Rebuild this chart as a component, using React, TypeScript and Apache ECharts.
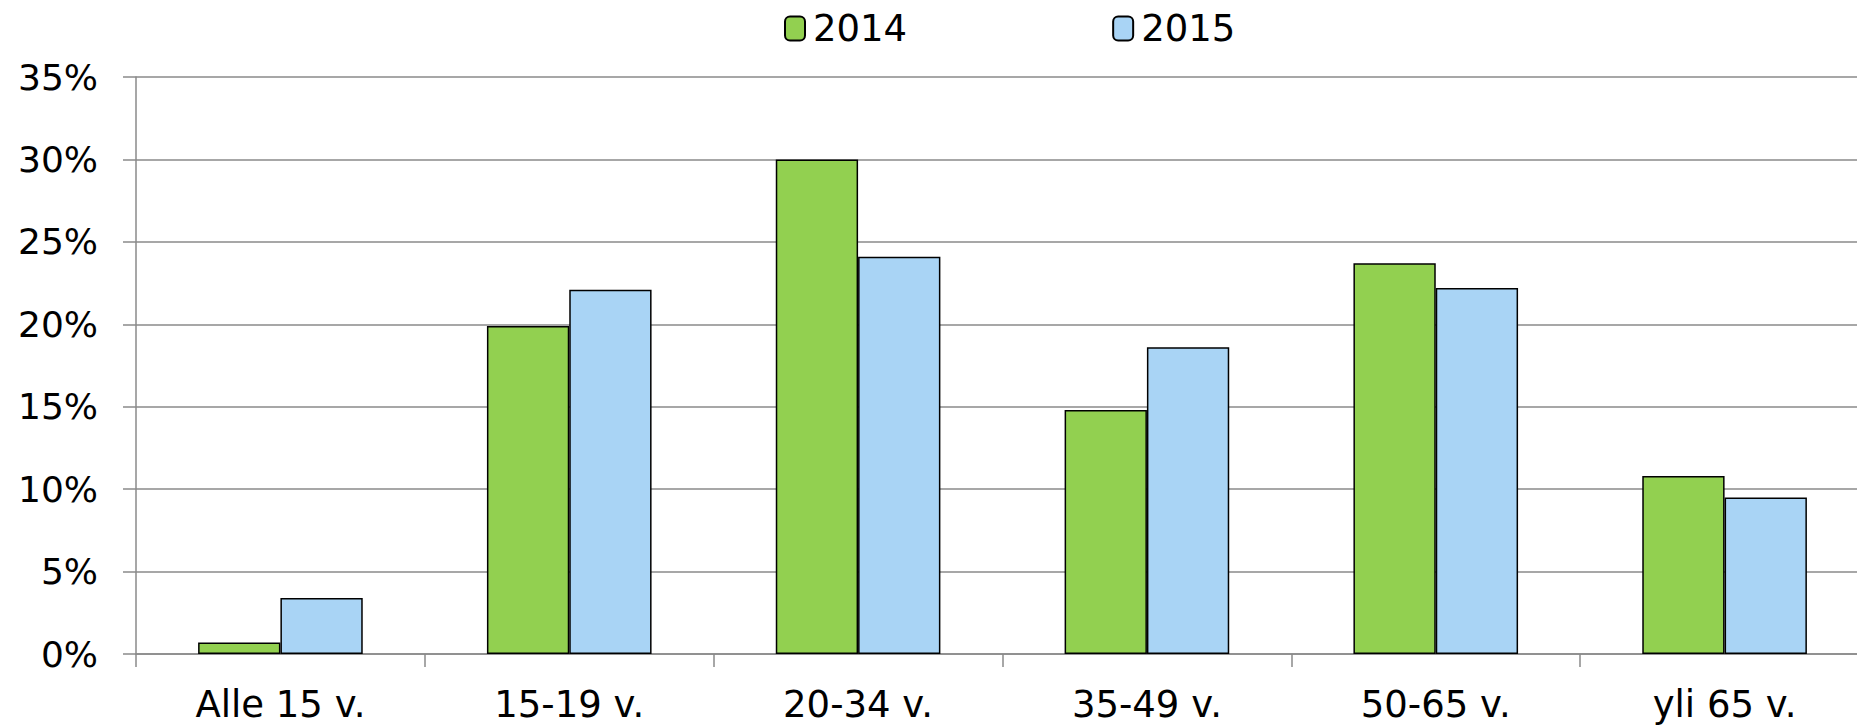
import React, { useEffect, useRef } from "react";
import * as echarts from "echarts";

const categories = ["Alle 15 v.", "15-19 v.", "20-34 v.", "35-49 v.", "50-65 v.", "yli 65 v."];
const values2014 = [0.7, 19.9, 30.0, 14.8, 23.7, 10.8];
const values2015 = [3.4, 22.1, 24.1, 18.6, 22.2, 9.5];
const seriesNames = ["2014", "2015"];

const FONT = "DejaVu Sans";
const GRID_COLOR = "#8a8a8a";

export default function App() {
  const ref = useRef<HTMLDivElement>(null);
  useEffect(() => {
    if (!ref.current) return;
    const chart = echarts.init(ref.current, undefined, { renderer: "svg" });
    chart.setOption({
      animation: false,
      backgroundColor: "#ffffff",
      legend: {
        left: 779,
        top: 5,
        itemWidth: 20,
        itemHeight: 24,
        itemGap: 205,
        textStyle: { fontFamily: FONT, fontSize: 37, color: "#000", padding: [0, 0, 0, 3] },
        data: seriesNames,
      },
      grid: { left: 136, top: 77, width: 1733, height: 577 },
      xAxis: {
        type: "category",
        data: categories,
        axisLine: { show: true, lineStyle: { color: GRID_COLOR, width: 1.5 } },
        axisTick: { show: true, length: 13, lineStyle: { color: GRID_COLOR, width: 1.5 } },
        axisLabel: { fontFamily: FONT, fontSize: 37, lineHeight: 34, color: "#000", margin: 33 },
      },
      yAxis: {
        type: "value",
        min: 0,
        max: 35,
        interval: 5,
        axisLine: { show: true, lineStyle: { color: GRID_COLOR, width: 1.5 } },
        axisTick: { show: true, length: 13, lineStyle: { color: GRID_COLOR, width: 1.5 } },
        axisLabel: { fontFamily: FONT, fontSize: 36, color: "#000", margin: 38, formatter: "{value}%" },
        splitLine: { show: true, lineStyle: { color: GRID_COLOR, width: 1.5 } },
      },
      series: [
        {
          name: seriesNames[0],
          type: "bar",
          data: values2014,
          barGap: "0%",
          barCategoryGap: "43%",
          itemStyle: { color: "#92D050", borderColor: "#000", borderWidth: 1.5 },
        },
        {
          name: seriesNames[1],
          type: "bar",
          data: values2015,
          barGap: "0%",
          barCategoryGap: "43%",
          itemStyle: { color: "#A9D4F5", borderColor: "#000", borderWidth: 1.5 },
        },
      ],
    });
    return () => chart.dispose();
  }, []);
  return (
    <div
      ref={ref}
      style={{ position: "fixed", left: 0, top: 0, width: 1890, height: 726, background: "#fff" }}
    />
  );
}
